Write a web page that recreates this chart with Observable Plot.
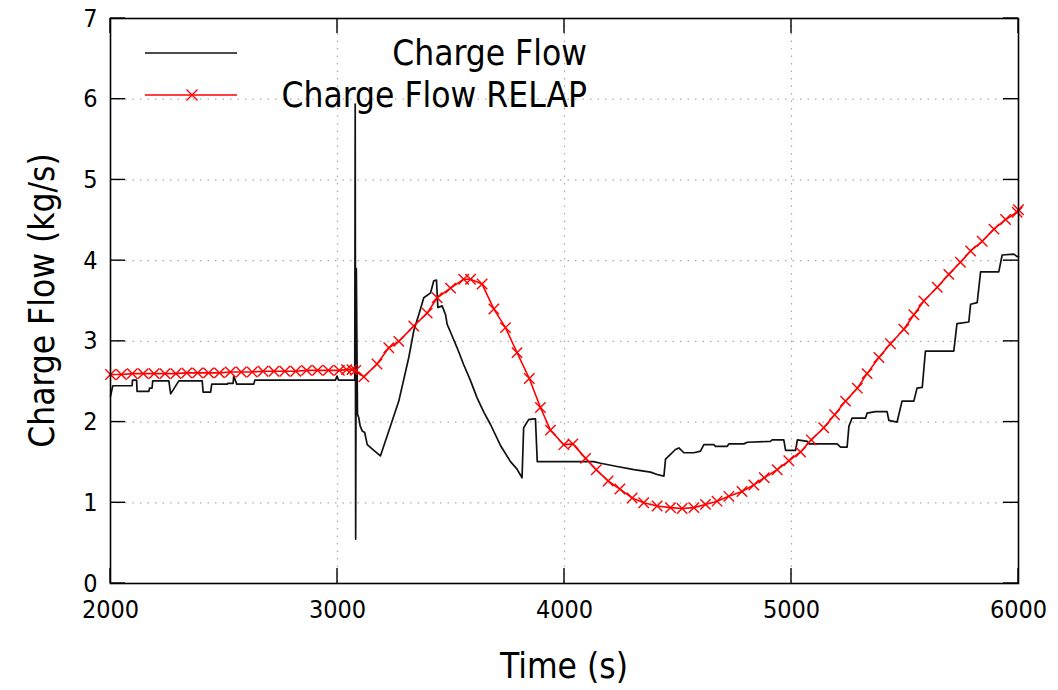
<!DOCTYPE html>
<html>
<head>
<meta charset="utf-8">
<script src="https://cdn.jsdelivr.net/npm/d3@7"></script>
<script src="https://cdn.jsdelivr.net/npm/@observablehq/plot@0.6"></script>
<style>
  html, body { margin: 0; padding: 0; background: #fff; }
  #chart { width: 1058px; height: 690px; }
</style>
</head>
<body>
<div id="chart"></div>
<script>
const FONT = '"DejaVu Sans Condensed", "DejaVu Sans", sans-serif';

// Axis ticks
const xTicks = [2000, 3000, 4000, 5000, 6000];
const yTicks = [0, 1, 2, 3, 4, 5, 6, 7];

// Series names
const seriesNames = ["Charge Flow", "Charge Flow RELAP"];

// Charge Flow (measured) — time (s)
const flowTime = [
  2000, 2010, 2095, 2097, 2115, 2117, 2169, 2172, 2183, 2186, 2257, 2265, 2272, 2301,
  2404, 2408, 2441, 2446, 2514, 2517, 2540, 2543, 2556, 2631, 2636, 2991, 2998, 3004, 3076,
  3078, 3080, 3083, 3088, 3094, 3100, 3109, 3120, 3131, 3160, 3189, 3226, 3270, 3314, 3336,
  3358, 3380, 3410, 3424, 3436, 3442, 3461, 3476, 3483, 3500, 3527, 3556, 3585, 3615, 3645,
  3674, 3720, 3762, 3790, 3813, 3820, 3842, 3864, 3872, 3880, 4129, 4159, 4232, 4306, 4379,
  4408, 4438, 4445, 4460, 4489, 4504, 4526, 4570, 4599, 4614, 4658, 4665, 4717, 4724, 4790,
  4805, 4907, 4915, 4966, 4974, 5018, 5026, 5070, 5077, 5201, 5216, 5245, 5253, 5267, 5326,
  5333, 5370, 5421, 5429, 5465, 5487, 5539, 5553, 5576, 5590, 5715, 5729, 5781, 5789, 5818,
  5833, 5913, 5928, 5980, 5994, 6000
];
// Charge Flow (measured) — kg/s
const flowValue = [
  2.32, 2.45, 2.45, 2.52, 2.52, 2.38, 2.38, 2.42, 2.42, 2.51, 2.51, 2.35, 2.38, 2.51,
  2.51, 2.37, 2.37, 2.47, 2.47, 2.48, 2.48, 2.57, 2.47, 2.47, 2.52, 2.52, 2.57, 2.52, 2.52,
  5.94, 0.55, 3.90, 2.10, 2.05, 1.95, 1.89, 1.87, 1.72, 1.65, 1.58, 1.89, 2.26, 2.80, 3.13,
  3.33, 3.54, 3.60, 3.75, 3.76, 3.42, 3.44, 3.33, 3.21, 3.10, 2.92, 2.71, 2.52, 2.30, 2.12,
  1.97, 1.70, 1.51, 1.42, 1.31, 1.93, 2.03, 2.04, 2.04, 1.51, 1.51, 1.49, 1.45, 1.41, 1.38,
  1.35, 1.33, 1.54, 1.58, 1.66, 1.68, 1.62, 1.62, 1.64, 1.72, 1.72, 1.70, 1.70, 1.73, 1.73,
  1.75, 1.76, 1.78, 1.78, 1.65, 1.65, 1.78, 1.76, 1.73, 1.73, 1.69, 1.69, 1.95, 2.05, 2.05,
  2.11, 2.13, 2.13, 2.02, 2.00, 2.26, 2.26, 2.42, 2.43, 2.88, 2.88, 3.22, 3.24, 3.46, 3.48,
  3.86, 3.86, 4.07, 4.08, 4.05, 4.05
];

// Charge Flow RELAP — time (s)
const relapTime = [
  2000, 2048, 2096, 2144, 2192, 2240, 2288, 2336, 2384, 2432, 2480, 2528, 2576, 2624, 2672,
  2720, 2768, 2816, 2864, 2912, 2960, 3008, 3040, 3064, 3080, 3116, 3174, 3226, 3270, 3336,
  3395, 3439, 3498, 3556, 3586, 3637, 3689, 3740, 3791, 3845, 3894, 3938, 3997, 4037, 4093,
  4140, 4192, 4244, 4298, 4349, 4408, 4467, 4518, 4570, 4621, 4672, 4724, 4782, 4834, 4880,
  4937, 4988, 5040, 5087, 5142, 5190, 5238, 5290, 5333, 5385, 5436, 5495, 5539, 5583, 5642,
  5693, 5744, 5789, 5840, 5892, 5943, 5994, 6000
];
// Charge Flow RELAP — kg/s
const relapValue = [
  2.59, 2.59, 2.60, 2.60, 2.60, 2.60, 2.60, 2.61, 2.61, 2.61, 2.61, 2.62, 2.62, 2.62, 2.63,
  2.63, 2.63, 2.63, 2.64, 2.64, 2.64, 2.64, 2.65, 2.65, 2.64, 2.56, 2.72, 2.92, 3.00, 3.19,
  3.35, 3.54, 3.66, 3.77, 3.77, 3.71, 3.40, 3.17, 2.86, 2.54, 2.18, 1.90, 1.72, 1.73, 1.55,
  1.41, 1.27, 1.17, 1.06, 1.00, 0.96, 0.94, 0.93, 0.94, 0.98, 1.02, 1.08, 1.14, 1.22, 1.31,
  1.41, 1.52, 1.63, 1.78, 1.93, 2.09, 2.26, 2.42, 2.60, 2.80, 2.97, 3.15, 3.33, 3.50, 3.67,
  3.83, 3.98, 4.12, 4.24, 4.39, 4.51, 4.60, 4.63
];

const flow = flowTime.map((t, i) => ({t, v: flowValue[i]}));
const relap = relapTime.map((t, i) => ({t, v: relapValue[i]}));

const chart = Plot.plot({
  width: 1058,
  height: 690,
  marginLeft: 110,
  marginRight: 40,
  marginTop: 18,
  marginBottom: 107,
  style: {fontFamily: FONT, background: "#fff", color: "#000"},
  x: {domain: [2000, 6000]},
  y: {domain: [0, 7]},
  marks: [
    Plot.gridX(xTicks.slice(1, -1), {stroke: "#aaa", strokeOpacity: 1, strokeDasharray: "1.5,6", strokeWidth: 1.2}),
    Plot.gridY(yTicks.slice(1, -1), {stroke: "#aaa", strokeOpacity: 1, strokeDasharray: "1.5,6", strokeWidth: 1.2}),
    Plot.axisX(xTicks, {tickSize: 0, tickPadding: 17, fontSize: 25, label: null, tickFormat: d => String(d)}),
    Plot.axisY(yTicks, {tickSize: 0, tickPadding: 13, fontSize: 25, label: null, tickFormat: d => String(d)}),
    Plot.line(flow, {x: "t", y: "v", stroke: "#111", strokeWidth: 1.7}),
    Plot.line(relap, {x: "t", y: "v", stroke: "#ff0000", strokeWidth: 1.6}),
    Plot.dot(relap, {x: "t", y: "v", symbol: "times", r: 4.8, stroke: "#ff0000", strokeWidth: 1.4}),
    Plot.frame({stroke: "#000", strokeWidth: 1.6})
  ]
});

document.getElementById("chart").appendChild(chart);

// Inward ticks, axis titles and legend placed using Plot's own scales
const sx = chart.scale("x"), sy = chart.scale("y");
const svg = d3.select(chart);
const X0 = sx.apply(2000), X1 = sx.apply(6000);
const Y0 = sy.apply(0), Y1 = sy.apply(7);
const TL = 15;
const g = svg.append("g").attr("stroke", "#000").attr("stroke-width", 1.4);
xTicks.forEach(v => {
  const x = sx.apply(v);
  g.append("line").attr("x1", x).attr("x2", x).attr("y1", Y0).attr("y2", Y0 - TL);
  g.append("line").attr("x1", x).attr("x2", x).attr("y1", Y1).attr("y2", Y1 + TL);
});
yTicks.forEach(v => {
  const y = sy.apply(v);
  g.append("line").attr("x1", X0).attr("x2", X0 + TL).attr("y1", y).attr("y2", y);
  g.append("line").attr("x1", X1).attr("x2", X1 - TL).attr("y1", y).attr("y2", y);
});

// Axis titles
svg.append("text")
  .attr("x", (X0 + X1) / 2).attr("y", 666)
  .attr("text-anchor", "middle").attr("dominant-baseline", "central")
  .attr("font-family", FONT).attr("font-size", 35).attr("fill", "#000")
  .text("Time (s)");
svg.append("text")
  .attr("transform", `translate(42,${(Y0 + Y1) / 2}) rotate(-90)`)
  .attr("text-anchor", "middle").attr("dominant-baseline", "central")
  .attr("font-family", FONT).attr("font-size", 35).attr("fill", "#000")
  .text("Charge Flow (kg/s)");

// Legend
const leg = svg.append("g");
const legendRows = [
  {name: seriesNames[0], color: "#111", marker: false, y: 53},
  {name: seriesNames[1], color: "#ff0000", marker: true, y: 95}
];
legendRows.forEach(r => {
  leg.append("line").attr("x1", 145).attr("x2", 237).attr("y1", r.y).attr("y2", r.y)
    .attr("stroke", r.color).attr("stroke-width", 1.6);
  if (r.marker) {
    const cx = 192, s = 5.5;
    leg.append("path")
      .attr("d", `M${cx - s},${r.y - s}L${cx + s},${r.y + s}M${cx - s},${r.y + s}L${cx + s},${r.y - s}`)
      .attr("stroke", r.color).attr("stroke-width", 1.4);
  }
  leg.append("text").attr("x", 587).attr("y", r.y)
    .attr("text-anchor", "end").attr("dominant-baseline", "central")
    .attr("font-family", FONT).attr("font-size", 35).attr("fill", "#000")
    .text(r.name);
});
</script>
</body>
</html>
